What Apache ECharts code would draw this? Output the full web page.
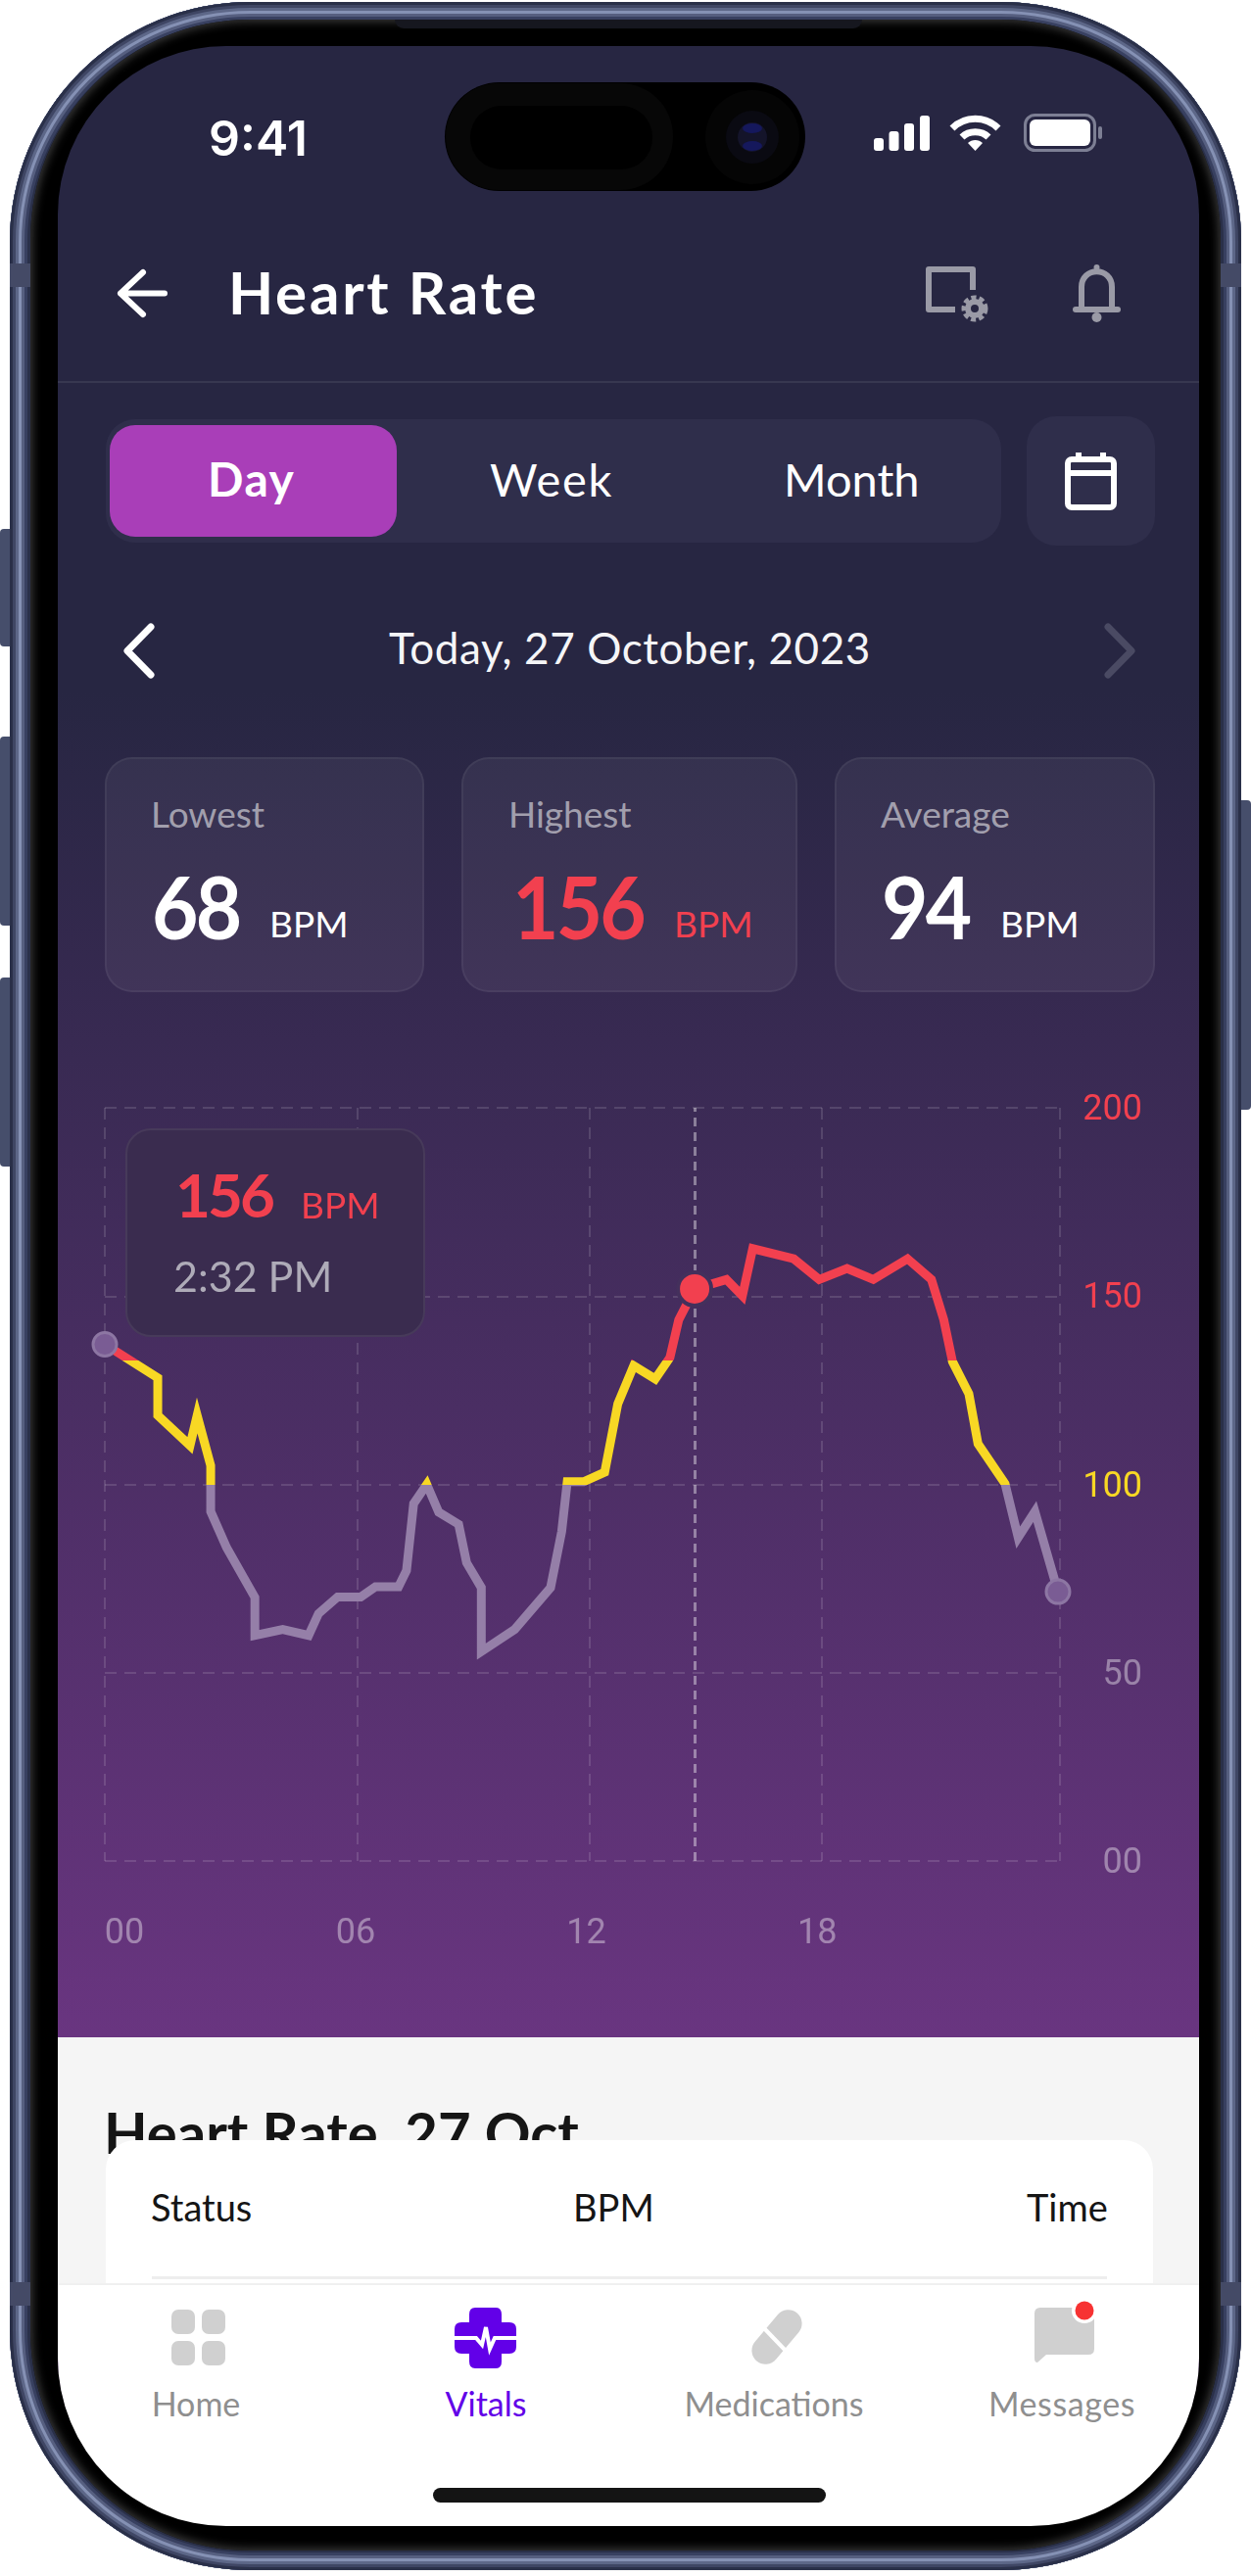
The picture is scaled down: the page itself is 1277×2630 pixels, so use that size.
<!DOCTYPE html>
<html>
<head>
<meta charset="utf-8">
<title>Heart Rate</title>
<script src="https://cdn.jsdelivr.net/npm/echarts@6/dist/echarts.min.js"></script>
<style>
  html, body { margin: 0; width: 1277px; height: 2630px; background: #fff; overflow: hidden; font-family: Lato, sans-serif; }
  .abs, .t { position: absolute; }
  .t { white-space: nowrap; line-height: 1; }
  .btn { position: absolute; background: #464e6b; border-radius: 4px; }
  .band { position: absolute; width: 22px; height: 24px; background: #444a66; }
  #body { left: 10px; top: 2px; width: 1257px; height: 2622px; border-radius: 245px; background: #2a3049;
    box-shadow: inset 0 0 0 3px #2a3049, inset 0 0 0 6px #3f4664, inset 0 0 0 9px #5d6788, inset 0 0 0 12px #8591b4,
      inset 0 0 0 15px #565f80, inset 0 0 0 18px #384060, inset 0 0 0 21px #2a3049; }
  #bezel { left: 31px; top: 20px; width: 1215px; height: 2584px; border-radius: 224px; background: #000; box-shadow: inset 0 0 10px 2px #3c3c3c; }
  #speaker { left: 403px; top: 20px; width: 477px; height: 9px; background: #16171f; border-radius: 0 0 14px 14px; }
  #screen { left: 59px; top: 47px; width: 1165px; height: 2530px; border-radius: 172px; overflow: hidden;
    background: linear-gradient(180deg, #272642 0, #272642 660px, #693580 2033px); }
  #island { left: 454px; top: 84px; width: 368px; height: 111px; border-radius: 56px; background: #000; }
  #divider { left: 59px; top: 389px; width: 1165px; height: 2px; background: rgba(255,255,255,.08); }
  #tabs { left: 108px; top: 428px; width: 914px; height: 126px; border-radius: 30px; background: #2f2e4b; }
  #dayPill { left: 112px; top: 434px; width: 293px; height: 114px; border-radius: 26px; background: #a93eb8; }
  #calBtn { left: 1048px; top: 425px; width: 131px; height: 132px; border-radius: 30px; background: #2f2e4b; }
  .card { position: absolute; top: 773px; height: 236px; border-radius: 28px; background: rgba(255,255,255,.055); border: 2px solid rgba(255,255,255,.05); }
  .statLabel { font-size: 37px; color: rgba(255,255,255,.55); top: 812px; }
  .statNum { font-size: 88px; font-weight: 700; color: #fff; top: 881px; letter-spacing: -3px; transform: scaleX(.93); transform-origin: left; }
  .statUnit { font-size: 37px; color: #fff; top: 924px; }
  .red { color: #f2404f !important; }
  #sheet { left: 59px; top: 2080px; width: 1165px; height: 260px; background: #f5f5f5; }
  #listCard { left: 108px; top: 2185px; width: 1069px; height: 200px; border-radius: 30px; background: #fff; }
  #rowLine { left: 155px; top: 2324px; width: 975px; height: 3px; background: #eee; }
  #nav { left: 59px; top: 2331px; width: 1165px; height: 246px; background: #fff; border-top: 2px solid #f0f0f0; border-radius: 0 0 172px 172px; }
  #homeBar { left: 442px; top: 2540px; width: 401px; height: 15px; border-radius: 8px; background: #141414; }
  .navLabel { font-size: 34px; color: #8f8f8f; top: 2437px; transform: translateX(-50%); }
  svg { position: absolute; overflow: visible; }
  #chart { position: absolute; left: 0; top: 0; width: 1277px; height: 2630px; }
</style>
</head>
<body>
<div class="btn" style="left:0;top:540px;width:14px;height:120px"></div>
<div class="btn" style="left:0;top:752px;width:14px;height:193px"></div>
<div class="btn" style="left:0;top:998px;width:14px;height:193px"></div>
<div class="btn" style="left:1263px;top:817px;width:14px;height:316px"></div>
<div class="abs" id="body"></div>
<div class="band" style="left:10px;top:269px"></div>
<div class="band" style="left:1245px;top:269px"></div>
<div class="band" style="left:10px;top:2330px"></div>
<div class="band" style="left:1245px;top:2330px"></div>
<div class="abs" id="bezel"></div>
<div class="abs" id="speaker"></div>
<div class="abs" id="screen"></div>
<div class="abs" id="island"></div>
<svg style="left:454px;top:84px" width="368" height="111">
  <rect x="1" y="1" width="232" height="109" rx="54" fill="#070707"/>
  <rect x="26" y="24" width="186" height="65" rx="32" fill="#000"/>
  <circle cx="314" cy="56" r="48" fill="#050505"/>
  <circle cx="314" cy="56" r="27" fill="#0a0a12"/>
  <circle cx="314" cy="56" r="15" fill="#14142a"/>
  <ellipse cx="314" cy="47" rx="10" ry="5" fill="#15185c"/>
  <ellipse cx="314" cy="65" rx="10" ry="5" fill="#15185c"/>
</svg>

<div class="t" style="left:213px;top:111px;font:600 50px Inter;color:#fff">9:41</div>
<svg style="left:892px;top:118px" width="57" height="36" fill="#fff">
  <rect x="0" y="23" width="10" height="13" rx="3"/><rect x="15.5" y="16" width="10" height="20" rx="3"/>
  <rect x="31" y="8" width="10" height="28" rx="3"/><rect x="47" y="0" width="10" height="36" rx="3"/>
</svg>
<svg style="left:969px;top:118px" width="53" height="36" fill="none" stroke="#fff" stroke-width="7">
  <path d="M3 13 C16 0 37 0 50 13"/><path d="M13 22 C20 15 33 15 40 22"/><path d="M26.5 36 L19 28 C23 24 30 24 34 28 Z" fill="#fff" stroke="none"/>
</svg>
<svg style="left:1045px;top:116px" width="81" height="39">
  <rect x="1.5" y="1.5" width="71" height="36" rx="10" fill="none" stroke="#7d7f94" stroke-width="3"/>
  <rect x="6" y="6" width="62" height="27" rx="6" fill="#fff"/><rect x="76" y="13" width="4" height="13" rx="2" fill="#7d7f94"/>
</svg>

<svg style="left:120px;top:275px" width="51" height="49" fill="none" stroke="#fff" stroke-width="6" stroke-linecap="round" stroke-linejoin="round">
  <path d="M26 3 L3 24.5 L26 46 M3 24.5 H48"/>
</svg>
<div class="t" style="left:233px;top:268px;font-size:60px;font-weight:700;color:#fff;letter-spacing:2.8px">Heart Rate</div>
<svg style="left:945px;top:272px" width="66" height="58" fill="none" stroke="#9a9aa6" stroke-width="6" stroke-linejoin="round">
  <path d="M48 24 V3 H3 V44 H30"/><circle cx="50" cy="43" r="7"/><circle cx="50" cy="43" r="11" stroke-width="5" stroke-dasharray="5 3"/>
</svg>
<svg style="left:1095px;top:269px" width="49" height="60" fill="none" stroke="#9a9aa6" stroke-width="6" stroke-linejoin="round">
  <path d="M9 44 V24 C9 3 40 3 40 24 V44"/><path d="M3 47 H46" stroke-linecap="round"/><circle cx="24.5" cy="4" r="3" fill="#9a9aa6" stroke="none"/><circle cx="24.5" cy="55" r="5" fill="#9a9aa6" stroke="none"/>
</svg>
<div class="abs" id="divider"></div>

<div class="abs" id="tabs"></div>
<div class="abs" id="dayPill"></div>
<div class="t" style="left:212px;top:465px;font-size:48px;font-weight:700;color:#fff;letter-spacing:1.5px">Day</div>
<div class="t" style="left:500px;top:466px;font-size:47px;color:#fff;letter-spacing:1.6px">Week</div>
<div class="t" style="left:800px;top:466px;font-size:47px;color:#fff">Month</div>
<div class="abs" id="calBtn"></div>
<svg style="left:1087px;top:461px" width="53" height="60" fill="none" stroke="#fff" stroke-width="6" stroke-linejoin="round">
  <rect x="3" y="8" width="47" height="49" rx="4"/><path d="M3 22 H50 M14 1 V10 M39 1 V10"/>
</svg>

<svg style="left:126px;top:637px" width="31" height="55" fill="none" stroke="#fff" stroke-width="7" stroke-linecap="round" stroke-linejoin="round">
  <path d="M28 3 L4 27.5 L28 52"/>
</svg>
<div class="t" style="left:397px;top:639px;font-size:44px;color:#f5f5f7;letter-spacing:.6px">Today, 27 October, 2023</div>
<svg style="left:1128px;top:637px" width="31" height="55" fill="none" stroke="#4a4a63" stroke-width="7" stroke-linecap="round" stroke-linejoin="round">
  <path d="M3 3 L27 27.5 L3 52"/>
</svg>

<div class="card" style="left:107px;width:322px"></div>
<div class="card" style="left:471px;width:339px"></div>
<div class="card" style="left:852px;width:323px"></div>
<div class="t statLabel" style="left:154px">Lowest</div>
<div class="t statNum" style="left:155px">68</div>
<div class="t statUnit" style="left:275px">BPM</div>
<div class="t statLabel" style="left:519px">Highest</div>
<div class="t statNum red" style="left:523px">156</div>
<div class="t statUnit red" style="left:688px">BPM</div>
<div class="t statLabel" style="left:899px">Average</div>
<div class="t statNum" style="left:900px">94</div>
<div class="t statUnit" style="left:1021px">BPM</div>

<div class="abs" id="sheet"></div>
<div class="t" style="left:106px;top:2148px;font-size:58px;font-weight:700;color:#151515">Heart Rate, 27 Oct</div>
<div class="abs" id="listCard"></div>
<div class="t" style="left:154px;top:2234px;font-size:38px;color:#151515">Status</div>
<div class="t" style="left:585px;top:2234px;font-size:38px;color:#151515">BPM</div>
<div class="t" style="left:1048px;top:2234px;font-size:38px;color:#151515">Time</div>
<div class="abs" id="rowLine"></div>
<div class="abs" id="nav"></div>

<svg style="left:175px;top:2358px" width="55" height="57" fill="#d0d0d0">
  <rect width="24" height="25" rx="7"/><rect x="31" width="24" height="25" rx="7"/>
  <rect y="32" width="24" height="25" rx="7"/><rect x="31" y="32" width="24" height="25" rx="7"/>
</svg>
<svg style="left:464px;top:2356px" width="63" height="62">
  <path d="M21 0 H42 Q48 0 48 7 V15 H56 Q63 15 63 22 V40 Q63 47 56 47 H48 V55 Q48 62 42 62 H21 Q15 62 15 55 V47 H7 Q0 47 0 40 V22 Q0 15 7 15 H15 V7 Q15 0 21 0 Z" fill="#6200e8"/>
  <path d="M0 31 H22 L28 38 L32 20 L36 42 L41 31 H63" fill="none" stroke="#fff" stroke-width="4"/>
</svg>
<svg style="left:765px;top:2358px" width="56" height="56">
  <rect x="-4" y="14" width="64" height="28" rx="14" transform="rotate(-50 28 28)" fill="#d0d0d0" />
  <path d="M13 17 L38 43" stroke="#fff" stroke-width="4" />
</svg>
<svg style="left:1056px;top:2356px" width="61" height="56">
  <path d="M6 0 H55 Q61 0 61 6 V42 Q61 48 55 48 H12 L3 56 Q0 56 0 52 V6 Q0 0 6 0 Z" fill="#d0d0d0"/>
  <circle cx="51" cy="3" r="13" fill="#fff"/><circle cx="51" cy="3" r="9.5" fill="#f73232"/>
</svg>
<div class="t navLabel" style="left:200px">Home</div>
<div class="t navLabel" style="left:496px;color:#6200e8">Vitals</div>
<div class="t navLabel" style="left:790px">Medications</div>
<div class="t navLabel" style="left:1084px;letter-spacing:.6px">Messages</div>
<div class="abs" id="homeBar"></div>

<div id="chart"></div>

<script>
  // readings taken from the curve, x in hours of the day, y in BPM
  const hours = [0, 1.33, 1.33, 2.14, 2.32, 2.66, 2.66, 3.06, 3.77, 3.77, 4.47, 5.12, 5.37, 5.85, 6.43, 6.8, 7.38, 7.58, 7.76, 8.09,
    8.39, 8.89, 9.09, 9.46, 9.46, 10.3, 11.2, 11.48, 11.62, 12.03, 12.56, 12.89, 13.29, 13.83, 14.2, 14.42, 14.82, 15.62, 16.02, 16.28,
    17.31, 17.95, 18.65, 19.31, 20.17, 20.77, 21.08, 21.3, 21.71, 21.94, 22.62, 22.95, 23.37, 23.95]
  const bpm = [137.2, 128.3, 118.3, 110.3, 118.3, 105, 92.8, 83.2, 70, 59.9, 61.5, 59.9, 65.7, 70.1, 70.1, 72.8, 72.8, 77.1, 94.9, 100,
    92.6, 89.4, 79.2, 72.6, 55.6, 61.5, 72.6, 87.5, 100.7, 100.7, 103.2, 121.4, 131.5, 128, 133.7, 143.7, 151.9, 154.4, 150.1, 162.6,
    159.9, 154.4, 157.3, 154.4, 159.9, 154.4, 143.7, 132.6, 124.1, 110.8, 100.2, 85.9, 92.8, 71.5]

  const selectedIndex = 36
  const selectedBpm = 156
  const selectedTime = '2:32 PM'

  const xGridLines = [0, 6.35, 12.18, 18.02, 24]
  const xTickValues = [0.49, 6.3, 12.1, 17.9]
  const xTickLabels = ['00', '06', '12', '18']
  const yTickColors = { 0: 'rgba(255,255,255,.4)', 50: 'rgba(255,255,255,.4)', 100: '#f8d824', 150: '#f2404f', 200: '#f2404f' }

  const gridLine = { color: 'rgba(255,255,255,.13)', width: 2, type: [12, 8] }

  const myChart = echarts.init(document.getElementById('chart'))

  myChart.setOption({
    animation: false,
    backgroundColor: 'transparent',
    grid: { left: 107, right: 195, top: 1131, height: 769 },
    xAxis: {
      type: 'value',
      min: 0,
      max: 24,
      axisLine: { show: false },
      axisTick: { show: false, customValues: xGridLines },
      splitLine: { show: true, lineStyle: gridLine },
      axisLabel: {
        customValues: xTickValues,
        margin: 57,
        fontFamily: 'Roboto',
        fontSize: 36,
        color: 'rgba(255,255,255,.4)',
        formatter: v => xTickLabels[xTickValues.indexOf(v)]
      }
    },
    yAxis: {
      type: 'value',
      position: 'right',
      min: 0,
      max: 200,
      interval: 50,
      axisLine: { show: false },
      axisTick: { show: false },
      splitLine: { show: true, lineStyle: gridLine },
      axisLabel: {
        margin: 84,
        align: 'right',
        fontFamily: 'Roboto',
        fontSize: 36,
        color: v => yTickColors[v],
        formatter: v => '{tick|' + (v === 0 ? '00' : v) + '}',
        rich: { tick: { padding: [6, 0, 0, 0], fontFamily: 'Roboto', fontSize: 36 } }
      }
    },
    visualMap: {
      show: false,
      type: 'piecewise',
      seriesIndex: 0,
      dimension: 1,
      pieces: [
        { lte: 100, color: '#957fa8' },
        { gt: 100, lte: 133, color: '#f8d824' },
        { gt: 133, color: '#f2404f' }
      ]
    },
    tooltip: {
      trigger: 'item',
      alwaysShowContent: true,
      transitionDuration: 0,
      position: [128, 1152],
      padding: 0,
      backgroundColor: 'transparent',
      borderWidth: 0,
      extraCssText: 'box-shadow:none;',
      formatter: () => '<div style="position:relative;width:306px;height:213px;box-sizing:border-box;background:#3a2c4f;border:2px solid #473a5a;border-radius:26px;font-family:Lato">'
        + '<span style="position:absolute;left:49px;top:34px;font-size:62px;line-height:1;font-weight:700;color:#f2404f;letter-spacing:-3px">' + selectedBpm + '</span>'
        + '<span style="position:absolute;left:177px;top:57px;font-size:37px;line-height:1;color:#f2404f">BPM</span>'
        + '<span style="position:absolute;left:47px;top:127px;font-size:43px;line-height:1;color:#aeabb8">' + selectedTime + '</span>'
        + '</div>'
    },
    series: [
      {
        type: 'line',
        data: hours.map((h, i) => [h, bpm[i]]),
        showSymbol: false,
        silent: true,
        lineStyle: { width: 9, join: 'miter', miterLimit: 10 },
        markLine: {
          silent: true,
          symbol: 'none',
          label: { show: false },
          lineStyle: { color: 'rgba(255,255,255,.4)', width: 3, type: [9, 6] },
          data: [{ xAxis: hours[selectedIndex] }]
        },
        z: 3
      },
      {
        type: 'scatter',
        data: [[hours[0], bpm[0]], [hours[hours.length - 1], bpm[bpm.length - 1]]],
        symbolSize: 24,
        itemStyle: { color: '#7a5c94', borderColor: '#8d76a3', borderWidth: 3, opacity: 1 },
        z: 4
      },
      {
        type: 'scatter',
        data: [[hours[selectedIndex], bpm[selectedIndex]]],
        symbolSize: 34,
        itemStyle: { color: '#f2404f', borderColor: '#44305c', borderWidth: 4, opacity: 1 },
        z: 5
      }
    ]
  })

  myChart.dispatchAction({ type: 'showTip', seriesIndex: 2, dataIndex: 0 })
</script>
</body>
</html>
